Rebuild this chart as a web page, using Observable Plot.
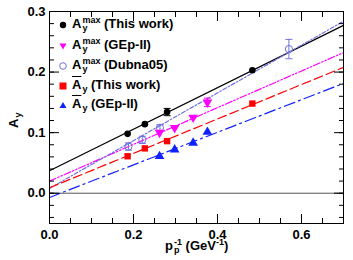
<!DOCTYPE html>
<html><head><meta charset="utf-8">
<script src="https://cdn.jsdelivr.net/npm/d3@7"></script>
<script src="https://cdn.jsdelivr.net/npm/@observablehq/plot@0.6"></script>
<style>
body{margin:0;background:#fff;}
#wrap{position:relative;width:353px;height:260px;font-family:"Liberation Sans",Arial,sans-serif;font-weight:bold;color:#000;}
#wrap svg{display:block;}
.t{position:absolute;font-size:13px;white-space:nowrap;line-height:13px;}
.ss{display:inline-block;vertical-align:-3px;font-size:9px;line-height:8px;margin-left:1px;}
.ss span{display:block;}
.sup{font-size:9px;vertical-align:5px;}
.ob{text-decoration:overline;}
.mk{position:absolute;}
</style></head><body><div id="wrap"></div>
<script>
// ---- data ----
const xThis = [0.186, 0.227, 0.280, 0.483];
const ayMaxThis = [0.098, 0.114, 0.134, 0.203];
const errMaxThis = [0.003, 0.003, 0.006, 0.003];
const abarThis = [0.061, 0.074, 0.086, 0.148];

const xGEp = [0.262, 0.298, 0.342, 0.376];
const ayMaxGEp = [0.100, 0.108, 0.125, 0.150];
const errMaxGEp = [0.003, 0.003, 0.003, 0.007];
const abarGEp = [0.061, 0.072, 0.083, 0.101];

const xDubna = [0.188, 0.221, 0.263, 0.570];
const ayMaxDubna = [0.077, 0.088, 0.108, 0.238];
const errDubna = [0.006, 0.006, 0.005, 0.016];

const fitNames = ["maxThis", "maxGEp", "maxDubna", "barThis", "barGEp"];
const fitIntercepts = [0.037, 0.020, 0.008, 0.009, -0.007];
const fitSlopes = [0.343, 0.303, 0.394, 0.284, 0.269];
const fitColors = ["#000000", "#ff00ff", "#7070e0", "#ff0000", "#1020ff"];
const fitDash = [null, "7,2,1.5,2,1.5,2", "4,2,1.5,2", "9,4", "11,4,2,4"];
const fitWidths = [1.2, 1.2, 1.2, 1.2, 1.2];
const xRange = [0, 0.7];
const yRange = [-0.05, 0.3];

const xMajor = [0, 0.2, 0.4, 0.6];
const xLabels = ["0.0", "0.2", "0.4", "0.6"];
const xMinor = d3.range(0, 0.70001, 0.05);
const yMajor = [0, 0.1, 0.2, 0.3];
const yLabels = ["0.0", "0.1", "0.2", "0.3"];
const yMinor = d3.range(-0.04, 0.3001, 0.02);

// ---- tables ----
const rows = (xs, ys, es) => xs.map((x, i) => ({x, y: ys[i], e: es ? es[i] : 0}));
const dThis = rows(xThis, ayMaxThis, errMaxThis);
const dGEp = rows(xGEp, ayMaxGEp, errMaxGEp);
const dDub = rows(xDubna, ayMaxDubna, errDubna);
const dBarThis = rows(xThis, abarThis);
const dBarGEp = rows(xGEp, abarGEp);

const capSym = {draw(ctx) { ctx.moveTo(-3.5, 0); ctx.lineTo(3.5, 0); }};
const errMarks = (data, color) => [
  Plot.ruleX(data, {x: "x", y1: d => d.y - d.e, y2: d => d.y + d.e, stroke: color, strokeWidth: 1}),
  Plot.dot(data.filter(d => d.e > 0.004), {x: "x", y: d => d.y + d.e, symbol: capSym, stroke: color, strokeWidth: 1, r: 3}),
  Plot.dot(data.filter(d => d.e > 0.004), {x: "x", y: d => d.y - d.e, symbol: capSym, stroke: color, strokeWidth: 1, r: 3})
];

const fitMarks = fitNames.map((n, i) => Plot.line(
  xRange.map(x => ({x, y: fitIntercepts[i] + fitSlopes[i] * x})),
  {x: "x", y: "y", stroke: fitColors[i], strokeWidth: fitWidths[i], strokeDasharray: fitDash[i]}
));

const blank = () => "";
const plot = Plot.plot({
  width: 353, height: 260,
  marginLeft: 49, marginRight: 10, marginTop: 11, marginBottom: 37,
  x: {domain: xRange},
  y: {domain: yRange},
  style: {fontFamily: "'Liberation Sans', Arial, sans-serif", fontSize: "13px", fontWeight: "bold", color: "black", background: "white"},
  marks: [
    Plot.ruleY([0], {stroke: "#555", strokeWidth: 1}),
    ...fitMarks,
    ...errMarks(dDub, "#7070e0"),
    ...errMarks(dGEp, "#ff00ff"),
    ...errMarks(dThis, "#000"),
    Plot.dot(dDub, {x: "x", y: "y", r: 3.6, stroke: "#7070e0", fill: "none", strokeWidth: 1}),
    Plot.dot(dGEp, {x: "x", y: "y", r: 3.6, symbol: "triangle", rotate: 180, fill: "#ff00ff"}),
    Plot.dot(dBarGEp, {x: "x", y: "y", r: 3.6, symbol: "triangle", fill: "#1020ff"}),
    Plot.dot(dBarThis, {x: "x", y: "y", r: 3.6, symbol: "square", fill: "#ff0000"}),
    Plot.dot(dThis, {x: "x", y: "y", r: 3.3, fill: "#000"}),
    Plot.axisY(yMajor, {anchor: "left", tickSize: 0, tickPadding: 4, tickFormat: (d, i) => yLabels[i], label: null}),
    Plot.axisY(yMajor, {anchor: "left", tickSize: -10, tickFormat: blank, label: null}),
    Plot.axisY(yMinor, {anchor: "left", tickSize: -5, tickFormat: blank, label: null}),
    Plot.axisY(yMajor, {anchor: "right", tickSize: -10, tickFormat: blank, label: null}),
    Plot.axisY(yMinor, {anchor: "right", tickSize: -5, tickFormat: blank, label: null}),
    Plot.axisX(xMajor, {anchor: "bottom", tickSize: 0, tickPadding: 6, tickFormat: (d, i) => xLabels[i], label: null}),
    Plot.axisX(xMajor, {anchor: "bottom", tickSize: -9, tickFormat: blank, label: null}),
    Plot.axisX(xMinor, {anchor: "bottom", tickSize: -5, tickFormat: blank, label: null}),
    Plot.axisX(xMajor, {anchor: "top", tickSize: -9, tickFormat: blank, label: null}),
    Plot.axisX(xMinor, {anchor: "top", tickSize: -5, tickFormat: blank, label: null}),
    Plot.frame({stroke: "#000", strokeWidth: 1})
  ]
});
const wrap = document.getElementById("wrap");
wrap.appendChild(plot);

// ---- legend & titles ----
const legendItems = [
  {html: 'A<span class="ss"><span>max</span><span>y</span></span> (This work)', mk: '<circle cx="6" cy="6" r="3.2" fill="#000"/>'},
  {html: 'A<span class="ss"><span>max</span><span>y</span></span> (GEp-II)', mk: '<path d="M2.5,3.5 L9.5,3.5 L6,9.5Z" fill="#ff00ff"/>'},
  {html: 'A<span class="ss"><span>max</span><span>y</span></span> (Dubna05)', mk: '<circle cx="6" cy="6" r="3.3" fill="none" stroke="#7070e0"/>'},
  {html: '<span class="ob">A</span><span class="ss"><span>&nbsp;</span><span>y</span></span> (This work)', mk: '<rect x="2.5" y="2.5" width="7" height="7" fill="#ff0000"/>'},
  {html: '<span class="ob">A</span><span class="ss"><span>&nbsp;</span><span>y</span></span> (GEp-II)', mk: '<path d="M2.5,9 L9.5,9 L6,3Z" fill="#1020ff"/>'}
];
const rowY = [25, 46, 66, 86, 105];
legendItems.forEach((it, i) => {
  const t = document.createElement("div");
  t.className = "t";
  t.style.left = "72px";
  t.style.top = (rowY[i] - 9) + "px";
  t.innerHTML = it.html;
  wrap.appendChild(t);
  const m = document.createElement("div");
  m.className = "mk";
  m.style.left = "57px";
  m.style.top = (rowY[i] - 6) + "px";
  m.innerHTML = '<svg width="12" height="12">' + it.mk + '</svg>';
  wrap.appendChild(m);
});
const xt = document.createElement("div");
xt.className = "t";
xt.style.left = "165px";
xt.style.top = "236px";
xt.innerHTML = 'p<span class="ss"><span>-1</span><span>p</span></span> (GeV<span class="sup">-1</span>)';
wrap.appendChild(xt);
const yt = document.createElement("div");
yt.className = "t";
yt.style.left = "4px";
yt.style.top = "110px";
yt.style.transform = "rotate(-90deg)";
yt.style.transformOrigin = "10px 8px";
yt.innerHTML = 'A<span class="ss"><span>&nbsp;</span><span>y</span></span>';
wrap.appendChild(yt);
</script>
</body></html>
